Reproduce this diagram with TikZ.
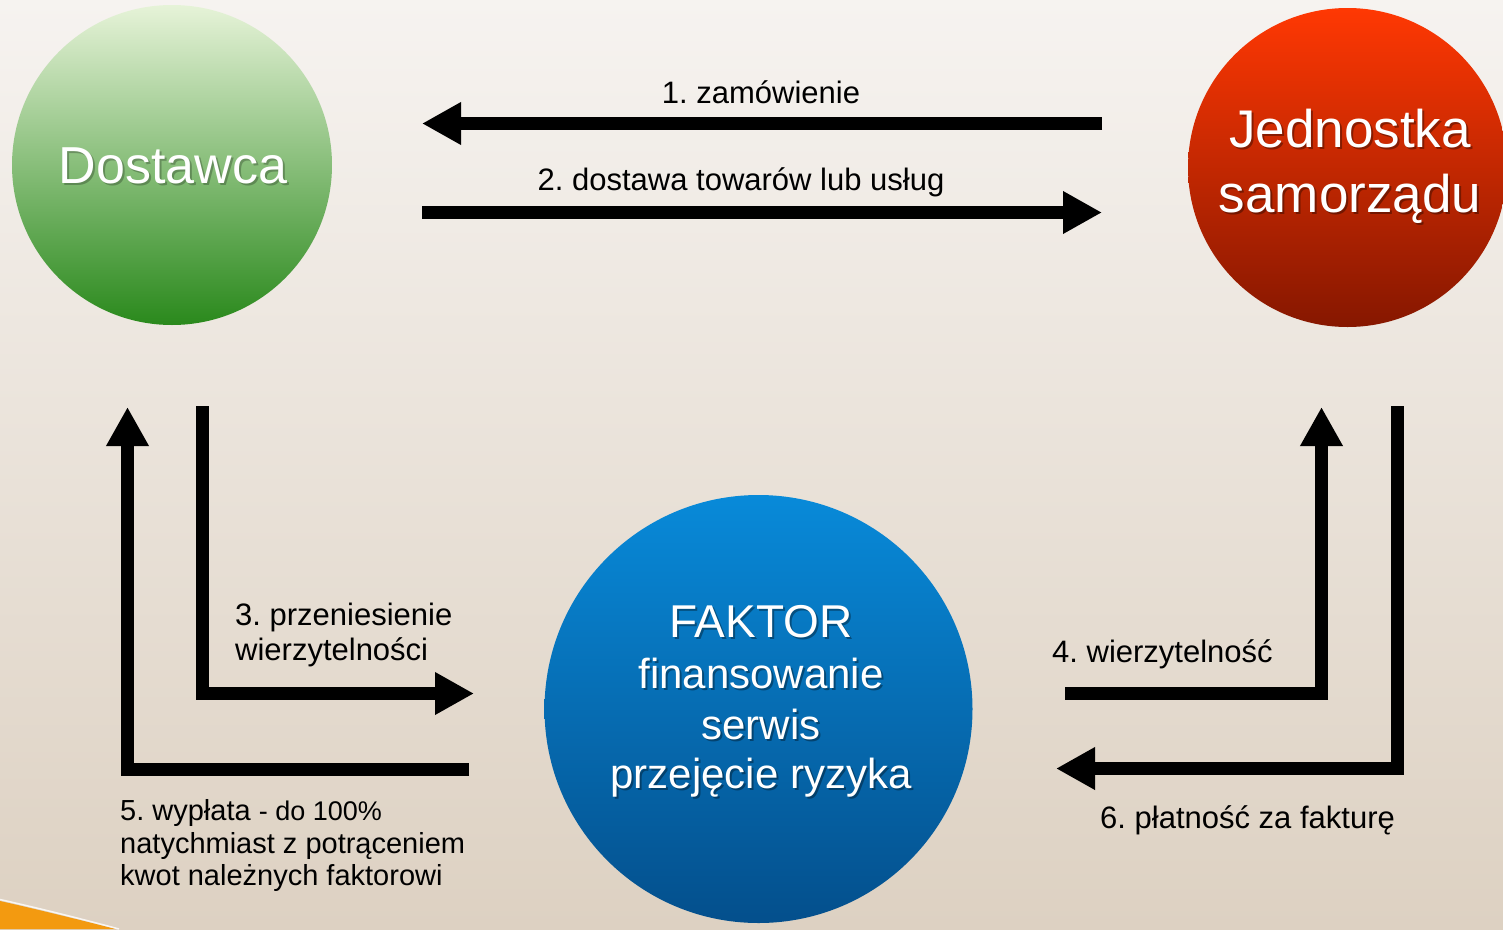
\documentclass[tikz,border=0pt]{standalone}
\usepackage{fontspec}
\setmainfont{Liberation Sans}
\usetikzlibrary{arrows.meta}
\frenchspacing
\definecolor{bgtop}{HTML}{F6F3F0}
\definecolor{bgmid}{HTML}{EAE3DB}
\definecolor{bgbot}{HTML}{DDD1C2}
\definecolor{gtop}{HTML}{E6F3D8}
\definecolor{gmid}{HTML}{9CC57A}
\definecolor{gbot}{HTML}{2A891C}
\definecolor{rtop}{HTML}{FF3803}
\definecolor{rmid}{HTML}{D42C02}
\definecolor{rbot}{HTML}{861700}
\definecolor{btop}{HTML}{088AD9}
\definecolor{bmid}{HTML}{0570BB}
\definecolor{bbot}{HTML}{044F8C}
\definecolor{swoosh}{HTML}{F39A10}
\begin{document}
\begin{tikzpicture}[x=1pt,y=-1pt,
  ball/.style={circle, inner sep=0pt, draw=none},
  arr/.style={line width=13pt, line join=miter, line cap=butt, draw=black,
    -{Triangle[length=39pt,width=40pt]}},
  lbl/.style={inner sep=0pt, text=black, font=\fontsize{31}{34}\selectfont},
  lblsmall/.style={inner sep=0pt, text=black, font=\fontsize{29}{32}\selectfont},
  big/.style={inner sep=0pt, text=white, align=center},
  shadowtxt/.style={inner sep=0pt, text=black, opacity=0.35, align=center}
]
\useasboundingbox (0,0) rectangle (1503,929);
\clip (0,0) rectangle (1503,929);
% background
\shade[top color=bgtop, middle color=bgmid, bottom color=bgbot] (0,0) rectangle (1503,929);
% orange swoosh
\fill[swoosh] (0,901) .. controls (40,910) and (80,920) .. (116,929) -- (0,929) -- cycle;
\draw[white, line width=1.5pt, opacity=0.8] (0,899.5) .. controls (40,908.5) and (80,918.5) .. (119,929);

% circles
\node[ball, minimum size=320pt, top color=gtop, middle color=gmid, bottom color=gbot] (dost) at (172,165) {};
\node[ball, minimum size=319pt, top color=rtop, middle color=rmid, bottom color=rbot] (jedn) at (1347.5,167.5) {};
\node[ball, minimum size=428pt, top color=btop, middle color=bmid, bottom color=bbot] (fakt) at (758.5,709) {};

% circle texts
\node[shadowtxt, anchor=base, opacity=0.25, font=\fontsize{52}{60}\selectfont] (dostS) at (175,185) {Dostawca};
\node[big, anchor=base, font=\fontsize{52}{60}\selectfont] (dostT) at (173,183) {Dostawca};

\node[shadowtxt, anchor=base, font=\fontsize{53}{65}\selectfont] (jednS1) at (1352,149) {Jednostka};
\node[big, anchor=base, font=\fontsize{53}{65}\selectfont] (jednT1) at (1350,147) {Jednostka};
\node[shadowtxt, anchor=base, font=\fontsize{53}{65}\selectfont] (jednS2) at (1352,214) {samorządu};
\node[big, anchor=base, font=\fontsize{53}{65}\selectfont] (jednT2) at (1350,212) {samorządu};

\node[shadowtxt, anchor=base, font=\fontsize{46}{50}\selectfont] (fS1) at (763,639) {FAKTOR};
\node[big, anchor=base, font=\fontsize{46}{50}\selectfont] (fT1) at (761,637) {FAKTOR};
\node[shadowtxt, anchor=base, font=\fontsize{42}{50}\selectfont] (fS2) at (763,690) {finansowanie};
\node[big, anchor=base, font=\fontsize{42}{50}\selectfont] (fT2) at (761,688) {finansowanie};
\node[shadowtxt, anchor=base, font=\fontsize{42}{50}\selectfont] (fS3) at (763,741) {serwis};
\node[big, anchor=base, font=\fontsize{42}{50}\selectfont] (fT3) at (761,739) {serwis};
\node[shadowtxt, anchor=base, font=\fontsize{42}{50}\selectfont] (fS4) at (763,790) {przejęcie ryzyka};
\node[big, anchor=base, font=\fontsize{42}{50}\selectfont] (fT4) at (761,788) {przejęcie ryzyka};

% connector endpoints
\coordinate (a1s) at (1102,123.5);
\coordinate (a1e) at (422,123.5);
\coordinate (a2s) at (422,212.5);
\coordinate (a2e) at (1102,212.5);
\coordinate (a3s) at (202.5,406);
\coordinate (a3c) at (202.5,693.5);
\coordinate (a3e) at (474,693.5);
\coordinate (a5s) at (469,769.5);
\coordinate (a5c) at (127.5,769.5);
\coordinate (a5e) at (127.5,407);
\coordinate (a4s) at (1065,693.5);
\coordinate (a4c) at (1321.5,693.5);
\coordinate (a4e) at (1321.5,407);
\coordinate (a6s) at (1397,406);
\coordinate (a6c) at (1397,768.5);
\coordinate (a6e) at (1056,768.5);

\draw[arr] (a1s) -- (a1e);
\draw[arr] (a2s) -- (a2e);
\draw[arr] (a3s) -- (a3c) -- (a3e);
\draw[arr] (a5s) -- (a5c) -- (a5e);
\draw[arr] (a4s) -- (a4c) -- (a4e);
\draw[arr] (a6s) -- (a6c) -- (a6e);

% labels
\node[lbl, anchor=base] (l1) at (761,103) {1. zamówienie};
\node[lbl, anchor=base] (l2) at (741,190) {2. dostawa towarów lub usług};
\node[lbl, anchor=base west] (l3a) at (235,625) {3. przeniesienie};
\node[lbl, anchor=base west] (l3b) at (235,660) {wierzytelności};
\node[lbl, anchor=base west] (l4) at (1052,662) {4. wierzytelność};
\node[lblsmall, anchor=base west] (l5a) at (120,820) {5. wypłata {\fontsize{27}{30}\selectfont - do 100\%}};
\node[lblsmall, anchor=base west] (l5b) at (120,853) {natychmiast z potrąceniem};
\node[lblsmall, anchor=base west] (l5c) at (120,885) {kwot należnych faktorowi};
\node[lbl, anchor=base west] (l6) at (1100,828) {6. płatność za fakturę};
\end{tikzpicture}
\end{document}
